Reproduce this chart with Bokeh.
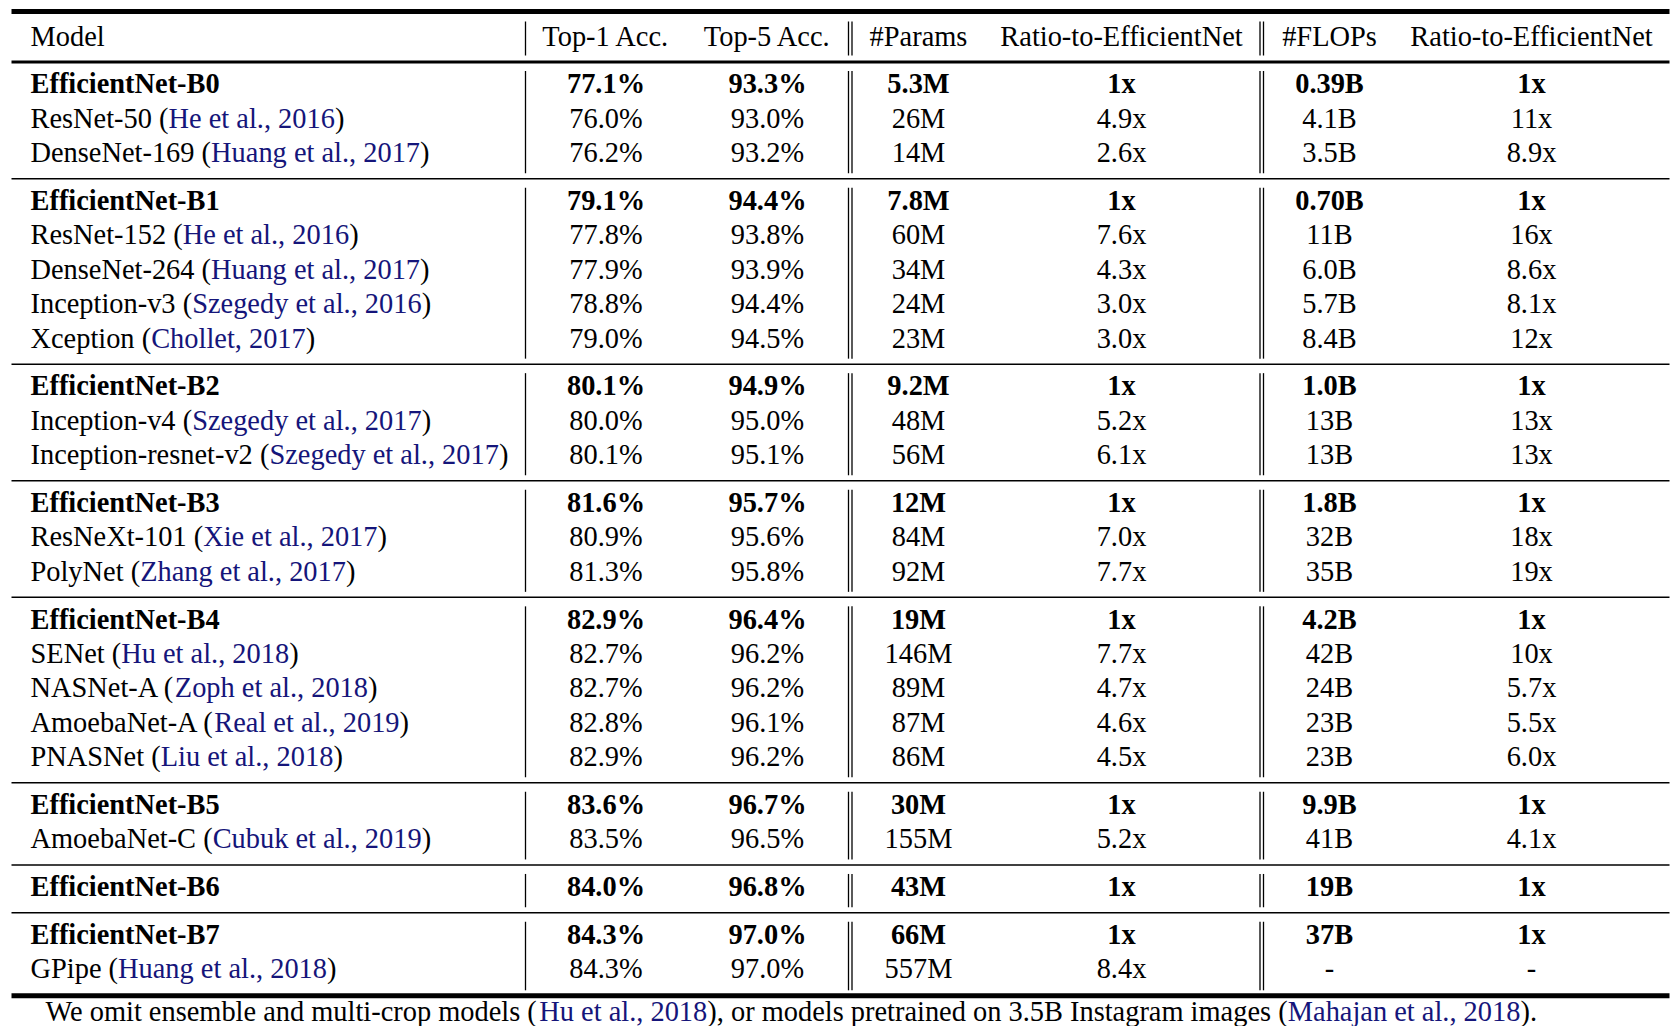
from bokeh.plotting import figure
from bokeh.models import Range1d, ColumnDataSource
from bokeh.embed import file_html
from bokeh.resources import INLINE
from bokeh.core.properties import value

# ---------------- data ----------------
headers = ["Model", "Top-1 Acc.", "Top-5 Acc.", "#Params", "Ratio-to-EfficientNet",
           "#FLOPs", "Ratio-to-EfficientNet"]
models = ["EfficientNet-B0", "ResNet-50", "DenseNet-169",
          "EfficientNet-B1", "ResNet-152", "DenseNet-264", "Inception-v3", "Xception",
          "EfficientNet-B2", "Inception-v4", "Inception-resnet-v2",
          "EfficientNet-B3", "ResNeXt-101", "PolyNet",
          "EfficientNet-B4", "SENet", "NASNet-A", "AmoebaNet-A", "PNASNet",
          "EfficientNet-B5", "AmoebaNet-C",
          "EfficientNet-B6",
          "EfficientNet-B7", "GPipe"]
citations = ["", "He et al., 2016", "Huang et al., 2017",
             "", "He et al., 2016", "Huang et al., 2017", "Szegedy et al., 2016", "Chollet, 2017",
             "", "Szegedy et al., 2017", "Szegedy et al., 2017",
             "", "Xie et al., 2017", "Zhang et al., 2017",
             "", "Hu et al., 2018", "Zoph et al., 2018", "Real et al., 2019", "Liu et al., 2018",
             "", "Cubuk et al., 2019",
             "",
             "", "Huang et al., 2018"]
groups = [0, 0, 0, 1, 1, 1, 1, 1, 2, 2, 2, 3, 3, 3, 4, 4, 4, 4, 4, 5, 5, 6, 7, 7]
top1 = ["77.1%", "76.0%", "76.2%", "79.1%", "77.8%", "77.9%", "78.8%", "79.0%",
        "80.1%", "80.0%", "80.1%", "81.6%", "80.9%", "81.3%", "82.9%", "82.7%",
        "82.7%", "82.8%", "82.9%", "83.6%", "83.5%", "84.0%", "84.3%", "84.3%"]
top5 = ["93.3%", "93.0%", "93.2%", "94.4%", "93.8%", "93.9%", "94.4%", "94.5%",
        "94.9%", "95.0%", "95.1%", "95.7%", "95.6%", "95.8%", "96.4%", "96.2%",
        "96.2%", "96.1%", "96.2%", "96.7%", "96.5%", "96.8%", "97.0%", "97.0%"]
params = ["5.3M", "26M", "14M", "7.8M", "60M", "34M", "24M", "23M", "9.2M", "48M",
          "56M", "12M", "84M", "92M", "19M", "146M", "89M", "87M", "86M", "30M",
          "155M", "43M", "66M", "557M"]
params_ratio = ["1x", "4.9x", "2.6x", "1x", "7.6x", "4.3x", "3.0x", "3.0x", "1x", "5.2x",
                "6.1x", "1x", "7.0x", "7.7x", "1x", "7.7x", "4.7x", "4.6x", "4.5x", "1x",
                "5.2x", "1x", "1x", "8.4x"]
flops = ["0.39B", "4.1B", "3.5B", "0.70B", "11B", "6.0B", "5.7B", "8.4B", "1.0B", "13B",
         "13B", "1.8B", "32B", "35B", "4.2B", "42B", "24B", "23B", "23B", "9.9B",
         "41B", "19B", "37B", "-"]
flops_ratio = ["1x", "11x", "8.9x", "1x", "16x", "8.6x", "8.1x", "12x", "1x", "13x",
               "13x", "1x", "18x", "19x", "1x", "10x", "5.7x", "5.5x", "6.0x", "1x",
               "4.1x", "1x", "1x", "-"]
footnote_parts = ["We omit ensemble and multi-crop models (", "Hu et al., 2018",
                  "), or models pretrained on 3.5B Instagram images (",
                  "Mahajan et al., 2018", ")."]
footnote_is_cite = [False, True, False, True, False]

# ---------------- styles / layout ----------------
FONT = "Liberation Serif"
FS = 28.4
BLACK = "#000000"
CITE = "#15157a"
X_LEFT, X_RIGHT = 11, 1669
X_MODEL = 30
COL_X = [605.5, 767, 918, 1121, 1329, 1531]
VLINES = [525, 848, 851.5, 1259.5, 1263]
Y_TOP_RULE, Y_HEAD, Y_HEAD_RULE = 11, 36.4, 61.5
Y_FIRST, PITCH, GAP = 84.6, 34.4, 47.8
TEXT_DY = -1.2
FOOT_X, FOOT_W, Y_FOOT = 45, 1508, 1011

TIMES = {' ': 250, '#': 500, '%': 833, '(': 333, ')': 333, ',': 250, '-': 333, '.': 250,
         ':': 278, 'A': 722, 'B': 667, 'C': 667, 'D': 722, 'E': 611, 'F': 556, 'G': 722,
         'H': 722, 'I': 333, 'J': 389, 'K': 722, 'L': 611, 'M': 889, 'N': 722, 'O': 722,
         'P': 556, 'Q': 722, 'R': 667, 'S': 556, 'T': 611, 'U': 722, 'V': 722, 'W': 944,
         'X': 722, 'Y': 722, 'Z': 611, 'a': 444, 'b': 500, 'c': 444, 'd': 500, 'e': 444,
         'f': 333, 'g': 500, 'h': 500, 'i': 278, 'j': 278, 'k': 500, 'l': 278, 'm': 778,
         'n': 500, 'o': 500, 'p': 500, 'q': 500, 'r': 333, 's': 389, 't': 278, 'u': 500,
         'v': 500, 'w': 722, 'x': 500, 'y': 500, 'z': 444}


def tw(s, size):
    return sum(TIMES.get(c, 500) for c in s) * size / 1000.0


# row positions
row_y = []
rules_y = []
y = Y_FIRST
for i, g in enumerate(groups):
    if i > 0:
        if g == groups[i - 1]:
            y += PITCH
        else:
            rules_y.append(row_y[-1] + 0.52 * GAP)
            y += GAP
    row_y.append(y)
Y_BOTTOM_RULE = row_y[-1] + 25.7
text_y = [v + TEXT_DY for v in row_y]

# the page is rendered without body margin: data coordinates == page pixels
W, H = 1676, 1026
p = figure(width=W, height=H, x_range=Range1d(0, W), y_range=Range1d(H, 0),
           output_backend="svg", toolbar_location=None, x_axis_type=None, y_axis_type=None,
           min_border=0)
p.outline_line_color = None
p.background_fill_color = "white"
p.border_fill_color = "white"

# horizontal rules
hy = [Y_TOP_RULE, Y_HEAD_RULE] + rules_y + [Y_BOTTOM_RULE]
hw = [5, 3] + [1.5] * len(rules_y) + [5]
hsrc = ColumnDataSource(dict(x0=[X_LEFT] * len(hy), x1=[X_RIGHT] * len(hy), y=hy, w=hw))
p.segment(x0="x0", y0="y", x1="x1", y1="y", line_width="w", line_color=BLACK, source=hsrc)

# vertical rules per block
blocks = [(Y_TOP_RULE + 10, Y_HEAD_RULE - 6.5)]
bounds = [Y_HEAD_RULE] + rules_y + [Y_BOTTOM_RULE]
for a, b in zip(bounds[:-1], bounds[1:]):
    blocks.append((a + 9, b - 5.5))
vx0, vy0, vy1 = [], [], []
for (a, b) in blocks:
    for vx in VLINES:
        vx0.append(vx)
        vy0.append(a)
        vy1.append(b)
p.segment(x0=vx0, y0=vy0, x1=vx0, y1=vy1, line_width=1.3, line_color=BLACK)

common = dict(text_font=value(FONT), text_font_size=value(f"{FS}px"), text_baseline="middle")

# header
p.text(x=[X_MODEL], y=[Y_HEAD], text=[headers[0]], text_align="left", text_color=BLACK, **common)
p.text(x=COL_X, y=[Y_HEAD] * 6, text=headers[1:], text_align="center", text_color=BLACK, **common)

# body
bold = [m.startswith("EfficientNet") for m in models]
cols = [top1, top5, params, params_ratio, flops, flops_ratio]
for is_bold in (True, False):
    idx = [i for i in range(len(models)) if bold[i] == is_bold]
    style = "bold" if is_bold else "normal"
    xs, ys, ts = [], [], []
    for ci, col in enumerate(cols):
        for i in idx:
            xs.append(COL_X[ci]); ys.append(text_y[i]); ts.append(col[i])
    p.text(x=xs, y=ys, text=ts, text_align="center", text_color=BLACK,
           text_font_style=style, **common)

# model column (with coloured citations)
bx, by, bt = [], [], []
cx, cy, ct = [], [], []
for i, m in enumerate(models):
    if citations[i]:
        head = m + " ("
        bx.append(X_MODEL); by.append(text_y[i]); bt.append(head)
        x1 = X_MODEL + tw(head, FS)
        cx.append(x1); cy.append(text_y[i]); ct.append(citations[i])
        x2 = x1 + tw(citations[i], FS)
        bx.append(x2); by.append(text_y[i]); bt.append(")")
p.text(x=bx, y=by, text=bt, text_align="left", text_color=BLACK, **common)
p.text(x=cx, y=cy, text=ct, text_align="left", text_color=CITE, **common)
bi = [i for i in range(len(models)) if bold[i]]
p.text(x=[X_MODEL] * len(bi), y=[text_y[i] for i in bi], text=[models[i] for i in bi],
       text_align="left", text_color=BLACK, text_font_style="bold", **common)

# footnote
full = "".join(footnote_parts)
fs_foot = min(FS, FOOT_W / (tw(full, 1000) / 1000.0))
fx = FOOT_X
for part, cite in zip(footnote_parts, footnote_is_cite):
    p.text(x=[fx], y=[Y_FOOT], text=[part], text_align="left",
           text_color=CITE if cite else BLACK, text_font=value(FONT),
           text_font_size=value(f"{fs_foot:.2f}px"), text_baseline="middle")
    fx += tw(part, fs_foot)

open("out.html", "w").write(file_html(p, INLINE))
